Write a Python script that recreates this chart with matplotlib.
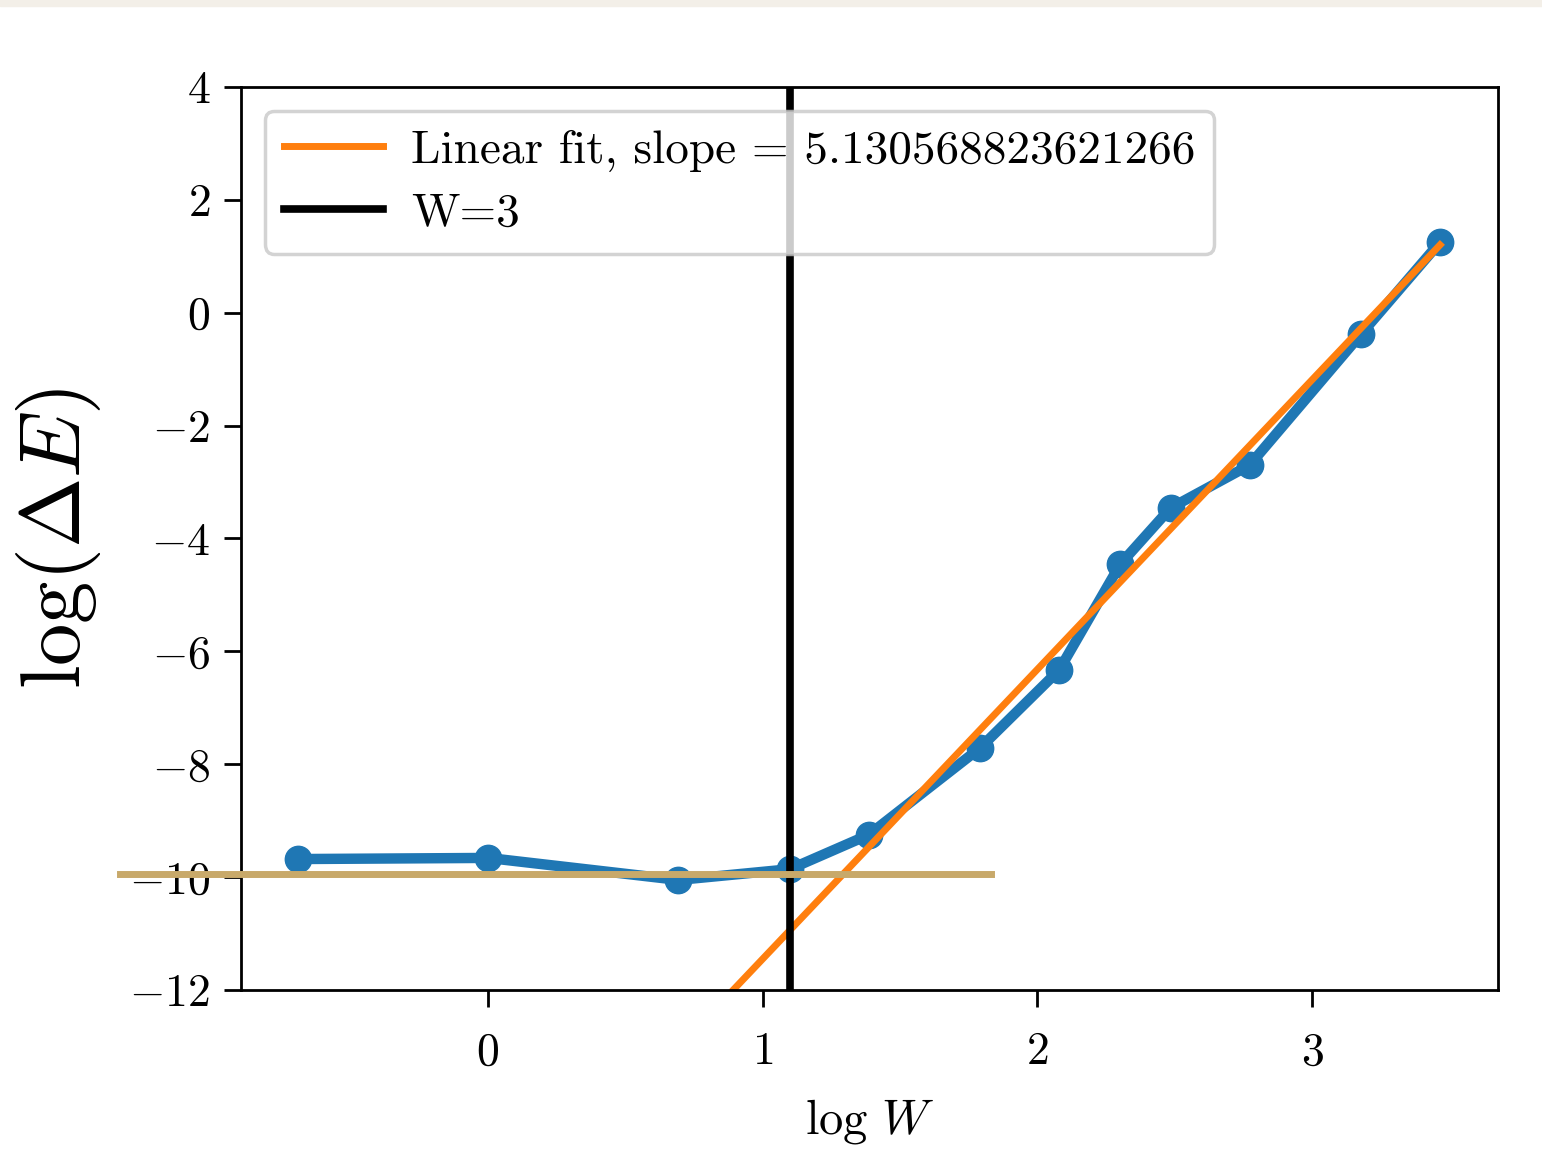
import numpy as np
import matplotlib
matplotlib.use("Agg")
import matplotlib.pyplot as plt
from matplotlib.patches import Rectangle

plt.rcParams['font.family'] = 'serif'
plt.rcParams['font.serif'] = ['cmr10']
plt.rcParams['mathtext.fontset'] = 'cm'
plt.rcParams['axes.formatter.use_mathtext'] = True

# W values and measured log(delta E)
W = [0.5, 1, 2, 3, 4, 6, 8, 10, 12, 16, 24, 32]
logdE = [-9.68, -9.66, -10.05, -9.86, -9.25, -7.71, -6.33, -4.45, -3.46, -2.70, -0.38, 1.25]

slope = 5.130568823621266
intercept = -16.58
W_mark = 3
floor_level = -9.95
floor_range = [-1.34, 1.83]

logW = np.log(W)

fig = plt.figure(figsize=(15.42, 11.72), dpi=100)
fig.patches.append(Rectangle((0, 1 - 6 / 1172), 1, 6 / 1172, transform=fig.transFigure,
                             color='#f3efe8', zorder=-1))
ax = fig.add_axes([0.1563, 0.1553, 0.8152, 0.7705])

ax.plot(logW, logdE, '-o', color='#1f77b4', lw=7.5, ms=19)
fit_x = logW[2:]
ax.plot(fit_x, slope * fit_x + intercept, color='#ff7f0e', lw=5,
        label='Linear fit, slope = ' + str(slope))
ax.axvline(np.log(W_mark), color='black', lw=5.5, label='W=3')
ax.plot(floor_range, [floor_level, floor_level], color='#c8a96a', lw=5, clip_on=False, zorder=5)

ax.set_xlim(-0.899, 3.677)
ax.set_ylim(-12, 4)
ax.set_xticks([0, 1, 2, 3])
ax.set_yticks([-12, -10, -8, -6, -4, -2, 0, 2, 4])
ax.tick_params(labelsize=33, length=12, width=2, pad=10)
ax.tick_params(axis='x', pad=18)
for s in ax.spines.values():
    s.set_linewidth(2)

ax.set_xlabel(r'$\log\, W$', fontsize=35, labelpad=17)
ax.set_ylabel(r'$\log(\Delta E)$', fontsize=61, labelpad=19)

leg = ax.legend(loc='upper left', fontsize=34, handlelength=2.1, borderpad=0.4,
                labelspacing=0.45, handletextpad=0.6, framealpha=0.8, edgecolor='#c8c8c8')
leg.get_frame().set_linewidth(2.5)

fig.savefig('out.png', dpi=100)
